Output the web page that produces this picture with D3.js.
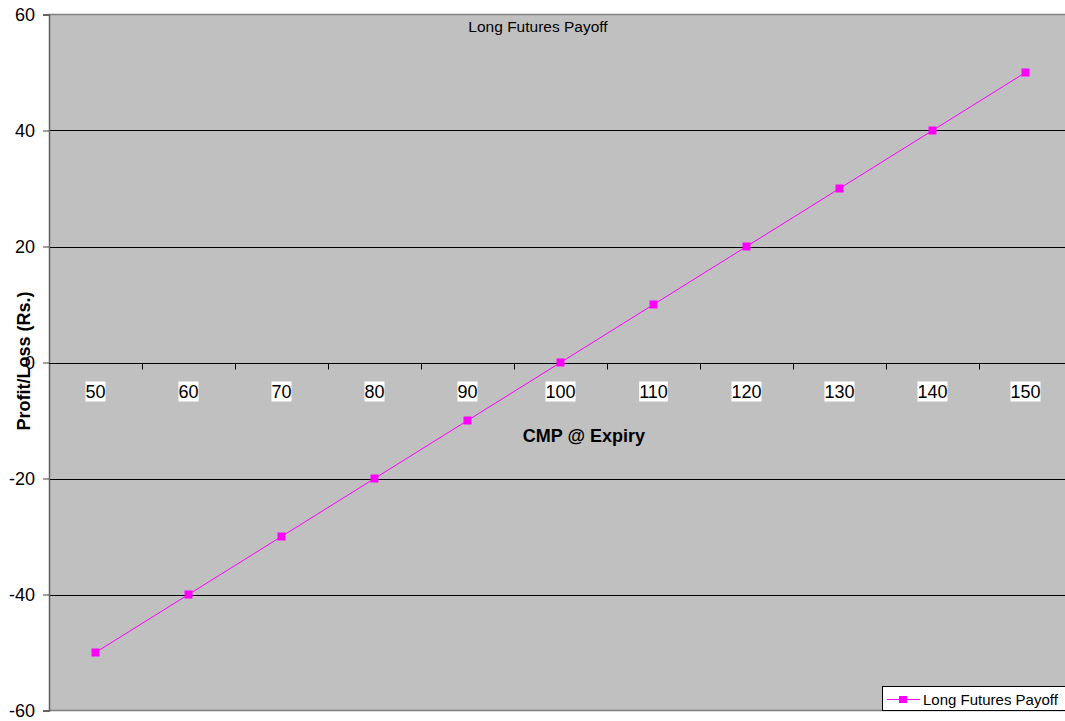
<!DOCTYPE html>
<html><head><meta charset="utf-8">
<script src="https://cdn.jsdelivr.net/npm/d3@7"></script>
<style>body{margin:0;background:#fff;}svg{display:block;font-family:"Liberation Sans",Arial,sans-serif;}</style>
</head><body>
<svg id="c" width="1065" height="721"></svg>
<script>
const categories = [50, 60, 70, 80, 90, 100, 110, 120, 130, 140, 150];
const payoff = [-50, -40, -30, -20, -10, 0, 10, 20, 30, 40, 50];
const yTicks = [-60, -40, -20, 0, 20, 40, 60];
const seriesName = "Long Futures Payoff";
const chartTitle = "Long Futures Payoff";
const xTitle = "CMP @ Expiry";
const yTitle = "Profit/Loss (Rs.)";

const svg = d3.select("#c");
const L = 49, T = 14.5, B = 710.5, R = 49 + 93 * categories.length;
const x = d3.scaleBand().domain(categories).range([L, R]);
const y = d3.scaleLinear().domain([-60, 60]).range([B, T]);

svg.append("rect").attr("x", L).attr("y", T).attr("width", R - L).attr("height", B - T).attr("fill", "#C0C0C0");

// gridlines
svg.append("g").selectAll("line").data(yTicks.filter(d => d !== -60 && d !== 60 && d !== 0)).join("line")
  .attr("x1", L).attr("x2", R).attr("y1", d => Math.round(y(d)) + 0.5).attr("y2", d => Math.round(y(d)) + 0.5)
  .attr("stroke", "#000").attr("stroke-width", 1);
// border top/bottom
svg.append("line").attr("x1", L).attr("x2", R).attr("y1", T).attr("y2", T).attr("stroke", "#808080").attr("stroke-width", 1.5);
svg.append("line").attr("x1", L).attr("x2", R).attr("y1", B).attr("y2", B).attr("stroke", "#808080").attr("stroke-width", 1.5);

// y axis
const yAxis = d3.axisLeft(y).tickValues(yTicks).tickSize(6).tickPadding(8).tickFormat(d => String(d));
const yg = svg.append("g").attr("transform", `translate(${L},0)`).call(yAxis);
yg.select(".domain").attr("stroke", "#606060").attr("stroke-width", 1.5);
yg.selectAll(".tick line").attr("stroke", "#404040");
yg.selectAll(".tick text").attr("font-size", 18).attr("fill", "#000").attr("font-family", "Liberation Sans, Arial, sans-serif");

// x axis at zero
const zeroY = Math.round(y(0)) + 0.5;
svg.append("line").attr("x1", L).attr("x2", R).attr("y1", zeroY).attr("y2", zeroY).attr("stroke", "#000");
const bounds = categories.slice(1).map(c => x(c));
svg.append("g").selectAll("line").data(bounds).join("line")
  .attr("x1", d => Math.round(d) + 0.5).attr("x2", d => Math.round(d) + 0.5)
  .attr("y1", zeroY).attr("y2", zeroY + 6).attr("stroke", "#000");

const labG = svg.append("g").selectAll("g").data(categories).join("g")
  .attr("transform", d => `translate(${x(d) + x.bandwidth() / 2},${zeroY + 34})`);
labG.each(function(d) {
  const g = d3.select(this);
  const t = g.append("text").attr("text-anchor", "middle").attr("font-size", 18).attr("fill", "#000").text(d);
  const bb = t.node().getBBox();
  g.insert("rect", "text").attr("x", bb.x).attr("y", bb.y).attr("width", bb.width).attr("height", bb.height).attr("fill", "#fff");
});

// line
const cx = d => x(d) + x.bandwidth() / 2;
svg.append("path").datum(categories.map((c, i) => [cx(c), y(payoff[i])]))
  .attr("d", d3.line()).attr("fill", "none").attr("stroke", "#FF00FF").attr("stroke-width", 1);
svg.append("g").selectAll("rect").data(categories).join("rect")
  .attr("x", (d) => cx(d) - 4).attr("y", (d, i) => y(payoff[i]) - 4)
  .attr("width", 8).attr("height", 8).attr("fill", "#FF00FF");

// titles
svg.append("text").attr("x", 538).attr("y", 32).attr("text-anchor", "middle").attr("font-size", 15.5).text(chartTitle);
svg.append("text").attr("x", 584).attr("y", 442).attr("text-anchor", "middle").attr("font-size", 18).attr("font-weight", "bold").text(xTitle);
svg.append("text").attr("transform", "translate(30,361) rotate(-90)").attr("text-anchor", "middle").attr("font-size", 18).attr("font-weight", "bold").text(yTitle);

// legend
const lg = svg.append("g");
lg.append("rect").attr("x", 882.5).attr("y", 686.5).attr("width", 200).attr("height", 24).attr("fill", "#fff").attr("stroke", "#000");
lg.append("line").attr("x1", 887).attr("x2", 920).attr("y1", 699.5).attr("y2", 699.5).attr("stroke", "#FF00FF");
lg.append("rect").attr("x", 899).attr("y", 696).attr("width", 8).attr("height", 7).attr("fill", "#FF00FF");
lg.append("text").attr("x", 923).attr("y", 704.5).attr("font-size", 15).text(seriesName);
</script>
</body></html>
